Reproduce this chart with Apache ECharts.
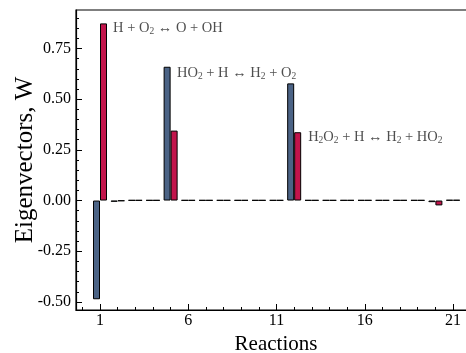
<!DOCTYPE html>
<html>
<head>
<meta charset="utf-8">
<script src="https://cdn.jsdelivr.net/npm/echarts@6/dist/echarts.min.js"></script>
<style>
html, body { margin: 0; padding: 0; background: #fff; }
#box { width: 466px; height: 353px; }
</style>
</head>
<body>
<div id="box"></div>
<script>
// reaction numbers
var reactions = [1, 2, 3, 4, 5, 6, 7, 8, 9, 10, 11, 12, 13, 14, 15, 16, 17, 18, 19, 20, 21];
// first eigenvector (blue) and second (red)
var vecBlue = [-0.487, -0.006, 0.002, 0.002, 0.660, 0.002, 0.002, 0.002, 0.002, 0.002, 0.002, 0.578, 0.002, 0.002, 0.002, 0.002, 0.002, 0.002, 0.002, -0.008, 0.003];
var vecRed = [0.874, -0.002, 0.002, 0.002, 0.345, 0.002, 0.002, 0.002, 0.002, 0.002, 0.002, 0.337, 0.002, 0.002, 0.002, 0.002, 0.002, 0.002, 0.002, -0.024, 0.003];
// tick labels
var xTicks = [1, 6, 11, 16, 21];
var yTicks = [-0.5, -0.25, 0, 0.25, 0.5, 0.75];
// reaction labels: [x, y, rich text]
var notes = [
	[1.74, 0.85, '{a|H + O}{s|2}{a| \u2194 O + OH}'],
	[5.36, 0.628, '{a|HO}{s|2}{a| + H \u2194 H}{s|2}{a| + O}{s|2}'],
	[12.79, 0.313, '{a|H}{s|2}{a|O}{s|2}{a| + H \u2194 H}{s|2}{a| + HO}{s|2}']
];

// minor tick positions
var xMinor = [];
for (var i = 0; i <= 22; i++) xMinor.push(i);
var yMinor = [];
for (var j = -10; j <= 18; j++) yMinor.push(Math.round(j * 5) / 100);

var font = 'Liberation Serif';
var myChart = echarts.init(document.getElementById('box'));

function pairs(vals) {
	return reactions.map(function (r, k) { return [r, vals[k]]; });
}

var option = {
	animation: false,
	textStyle: { fontFamily: font },
	grid: {
		left: 76, right: -10, top: 10, bottom: 43,
		outerBoundsMode: 'none', containLabel: false,
		show: true, borderColor: '#000', borderWidth: 1.2
	},
	xAxis: [{
		type: 'value', min: -0.36, max: 22.3,
		name: 'Reactions', nameLocation: 'middle', nameGap: 24,
		nameTextStyle: { fontSize: 21, color: '#000', fontFamily: font },
		axisLine: { show: true, onZero: false, lineStyle: { color: '#000', width: 1.2 } },
		axisTick: { show: true, inside: true, length: 6, customValues: xTicks, lineStyle: { color: '#000' } },
		axisLabel: { customValues: xTicks, fontSize: 16, color: '#000', margin: 3, fontFamily: font },
		splitLine: { show: false }
	}, {
		type: 'value', min: -0.36, max: 22.3, position: 'bottom', offset: 0,
		axisLine: { show: false, onZero: false },
		axisTick: { show: true, inside: true, length: 3, customValues: xMinor, lineStyle: { color: '#000', width: 1 } },
		axisLabel: { show: false },
		splitLine: { show: false }
	}],
	yAxis: [{
		type: 'value', min: -0.54, max: 0.94,
		name: 'Eigenvectors, W', nameLocation: 'middle', nameGap: 38, nameMoveOverlap: false,
		nameTextStyle: { fontSize: 25, color: '#000', fontFamily: font },
		axisLine: { show: true, onZero: false, lineStyle: { color: '#000', width: 1.2 } },
		axisTick: { show: true, inside: true, length: 6, customValues: yTicks, lineStyle: { color: '#000' } },
		axisLabel: {
			customValues: yTicks, fontSize: 16, color: '#000', margin: 5, fontFamily: font,
			formatter: function (v) { return v.toFixed(2); }
		},
		splitLine: { show: false }
	}, {
		type: 'value', min: -0.54, max: 0.94, position: 'left', offset: 0,
		axisLine: { show: false, onZero: false },
		axisTick: { show: true, inside: true, length: 3, customValues: yMinor, lineStyle: { color: '#000', width: 1 } },
		axisLabel: { show: false },
		splitLine: { show: false }
	}],
	series: [{
		name: 'blue', type: 'bar', barWidth: 7, barGap: '0%',
		itemStyle: { color: '#4b6385', borderColor: '#000', borderWidth: 1 },
		data: pairs(vecBlue)
	}, {
		name: 'red', type: 'bar', barWidth: 7, barGap: '0%',
		itemStyle: { color: '#c2144b', borderColor: '#000', borderWidth: 1 },
		data: pairs(vecRed)
	}, {
		name: 'notes', type: 'scatter', symbolSize: 0, silent: true,
		data: notes,
		label: {
			show: true, position: 'right', distance: 0,
			formatter: function (p) { return p.data[2]; },
			rich: {
				a: { fontSize: 14.5, color: '#222', fontFamily: font, lineHeight: 17, verticalAlign: 'middle' },
				s: { fontSize: 9.5, color: '#222', fontFamily: font, lineHeight: 17, verticalAlign: 'bottom' }
			}
		}
	}]
};
myChart.setOption(option);
</script>
</body>
</html>
